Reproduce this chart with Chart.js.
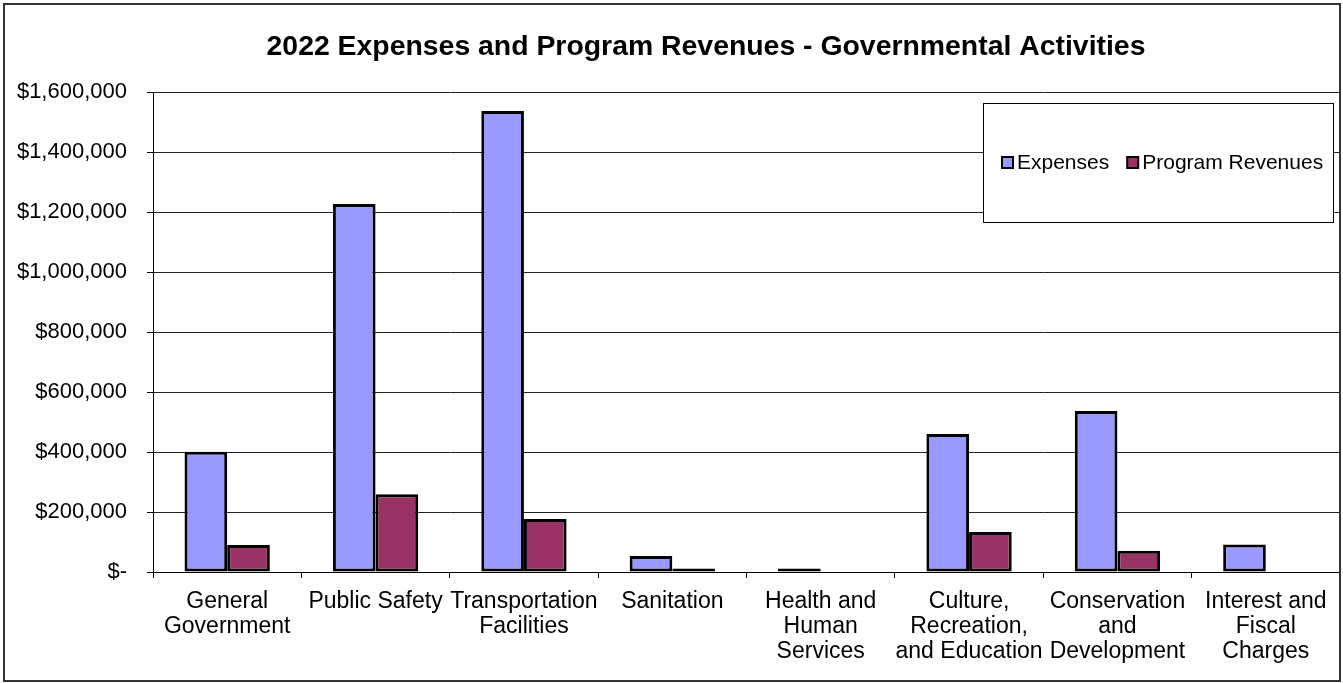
<!doctype html>
<html lang="en">
  <head>
    <meta charset="utf-8">
    <title>2022 Expenses and Program Revenues</title>
    <script src="https://cdn.jsdelivr.net/npm/chart.js"></script>
    <style>
      html, body { margin: 0; padding: 0; background: #fff; }
      .chart-wrap { position: relative; width: 1343px; height: 683px; }
    </style>
  </head>
  <body>
    <div class="chart-wrap">
      <canvas id="activitiesChart" width="1343" height="683"></canvas>
    </div>
    <script>
      const categories = [
        ['General', 'Government'],
        ['Public Safety'],
        ['Transportation', 'Facilities'],
        ['Sanitation'],
        ['Health and', 'Human', 'Services'],
        ['Culture,', 'Recreation,', 'and Education'],
        ['Conservation', 'and', 'Development'],
        ['Interest and', 'Fiscal', 'Charges']
      ];
      const expenses = [401000, 1227000, 1537000, 53000, 12000, 460000, 537000, 92000];
      const programRevenues = [90000, 259000, 177000, 12000, 0, 133000, 71000, 0];
      const yTicks = [0, 200000, 400000, 600000, 800000, 1000000, 1200000, 1400000, 1600000];
      const chartTitle = '2022 Expenses and Program Revenues - Governmental Activities';

      const FONT = "'Liberation Sans', Arial, sans-serif";

      // outer frame plus the heading, which sits a little left of centre
      const framePlugin = {
        id: 'frame',
        afterDraw(chart) {
          const ctx = chart.ctx;
          ctx.save();
          ctx.strokeStyle = '#333';
          ctx.lineWidth = 2;
          ctx.strokeRect(4, 4, 1336, 677);
          ctx.fillStyle = '#000';
          ctx.font = 'bold 28.4px ' + FONT;
          ctx.textAlign = 'center';
          ctx.textBaseline = 'middle';
          ctx.fillText(chartTitle, 706, 47);
          ctx.restore();
        }
      };

      // boxed legend sitting in the upper right of the plot
      const boxLegend = {
        id: 'boxLegend',
        afterDraw(chart) {
          const ctx = chart.ctx;
          const area = chart.chartArea;
          const x0 = area.right - 357, y0 = area.top + 11, w = 350, h = 119;
          ctx.save();
          ctx.fillStyle = '#fff';
          ctx.fillRect(x0, y0, w, h);
          ctx.strokeStyle = '#000';
          ctx.lineWidth = 1;
          ctx.strokeRect(x0 + 0.5, y0 + 0.5, w, h);
          ctx.font = '21px ' + FONT;
          ctx.textBaseline = 'middle';
          let x = x0 + 19;
          const cy = y0 + 60;
          chart.data.datasets.forEach(ds => {
            ctx.fillStyle = ds.backgroundColor;
            ctx.fillRect(x, cy - 6, 11, 11);
            ctx.strokeStyle = '#000';
            ctx.lineWidth = 2;
            ctx.strokeRect(x, cy - 6, 11, 11);
            ctx.fillStyle = '#000';
            ctx.fillText(ds.label, x + 15, cy);
            x += 15 + ctx.measureText(ds.label).width + 18;
          });
          ctx.restore();
        }
      };

      new Chart(document.getElementById('activitiesChart'), {
        type: 'bar',
        data: {
          labels: categories,
          datasets: [
            { label: 'Expenses', data: expenses, backgroundColor: '#9999ff', borderColor: '#000', borderWidth: 3, borderSkipped: false },
            { label: 'Program Revenues', data: programRevenues, backgroundColor: '#993366', borderColor: '#000', borderWidth: 3, borderSkipped: false }
          ]
        },
        options: {
          responsive: false,
          animation: false,
          layout: { padding: { left: 0, right: 3, top: 92, bottom: 0 } },
          datasets: { bar: { categoryPercentage: 0.575, barPercentage: 1 } },
          plugins: {
            legend: { display: false },
            tooltip: { enabled: false },
            title: { display: false }
          },
          scales: {
            x: {
              grid: { display: true, drawOnChartArea: false, drawTicks: true, tickLength: 6, tickColor: '#000', offset: true },
              border: { display: true, color: '#000', width: 1 },
              ticks: {
                color: '#000', padding: 11, maxRotation: 0, autoSkip: false,
                font: { family: FONT, size: 23, lineHeight: 1.087 }
              },
              afterFit(scale) { scale.height = 111; }
            },
            y: {
              min: 0,
              max: 1600000,
              afterBuildTicks(scale) { scale.ticks = yTicks.map(v => ({ value: v })); },
              grid: { color: '#222', lineWidth: 1, tickLength: 6, tickColor: '#000' },
              border: { display: true, color: '#000', width: 1 },
              ticks: {
                color: '#000', padding: 20,
                font: { family: FONT, size: 22 },
                callback: v => v === 0 ? '$-' : '$' + v.toLocaleString('en-US')
              },
              afterFit(scale) {
                scale.width = 153;
                scale.paddingTop = 0;
                scale.paddingBottom = 0;
              }
            }
          }
        },
        plugins: [framePlugin, boxLegend]
      });
    </script>
  </body>
</html>
